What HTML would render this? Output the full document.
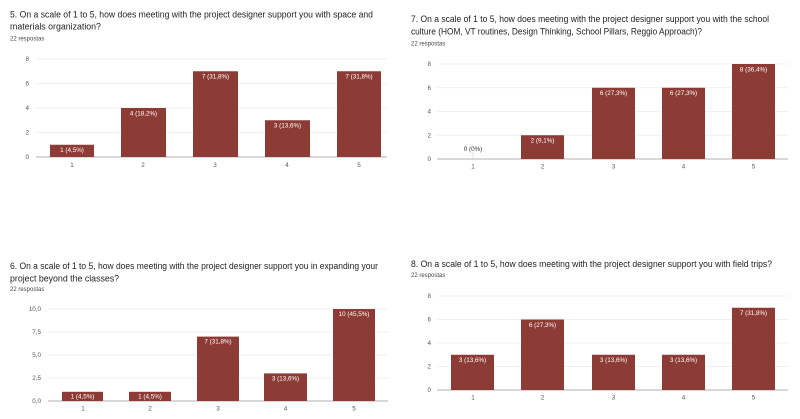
<!DOCTYPE html>
<html><head><meta charset="utf-8"><style>
html,body{margin:0;padding:0;background:#fff;}
svg{display:block;font-family:"Liberation Sans",Arial,sans-serif;}
.t{font-size:8.8px;fill:#222;}
.r{font-size:6px;fill:#444;}
.ax{font-size:6.3px;fill:#555;}
.g{stroke:#ececec;stroke-width:0.7;}
.b{fill:#8d3b35;}
.v{font-size:6.3px;fill:#fff;text-anchor:middle;}
</style></head><body>
<svg width="800" height="419" viewBox="0 0 800 419">
<!-- Chart 5 -->
<text class="t" x="10" y="17.5" textLength="363" lengthAdjust="spacingAndGlyphs">5. On a scale of 1 to 5, how does meeting with the project designer support you with space and</text>
<text class="t" x="10" y="29.5">materials organization?</text>
<text class="r" x="10" y="40.5">22 respostas</text>
<g class="g"><line x1="36" x2="387" y1="59" y2="59"/><line x1="36" x2="387" y1="83.5" y2="83.5"/><line x1="36" x2="387" y1="108" y2="108"/><line x1="36" x2="387" y1="132.5" y2="132.5"/></g>
<line x1="36" x2="387" y1="157" y2="157" stroke="#999" stroke-width="0.8"/>
<g class="ax" text-anchor="end"><text x="29" y="61">8</text><text x="29" y="85.5">6</text><text x="29" y="110">4</text><text x="29" y="134.5">2</text><text x="29" y="159">0</text></g>
<g class="ax" text-anchor="middle"><text x="72" y="167">1</text><text x="143" y="167">2</text><text x="215" y="167">3</text><text x="287" y="167">4</text><text x="359" y="167">5</text></g>
<rect class="b" x="50" y="144.75" width="44" height="12.25"/><rect class="b" x="121" y="108" width="45" height="49"/><rect class="b" x="193" y="71.25" width="45" height="85.75"/><rect class="b" x="265" y="120.25" width="45" height="36.75"/><rect class="b" x="337" y="71.25" width="44" height="85.75"/>
<text class="v" x="72" y="152">1 (4,5%)</text><text class="v" x="143.5" y="115.5">4 (18,2%)</text><text class="v" x="215.5" y="78.5">7 (31,8%)</text><text class="v" x="287.5" y="127.5">3 (13,6%)</text><text class="v" x="359" y="78.5">7 (31,8%)</text>

<!-- Chart 7 -->
<text class="t" x="411" y="22" textLength="358" lengthAdjust="spacingAndGlyphs">7. On a scale of 1 to 5, how does meeting with the project designer support you with the school</text>
<text class="t" x="411" y="34.5" textLength="291" lengthAdjust="spacingAndGlyphs">culture (HOM, VT routines, Design Thinking, School Pillars, Reggio Approach)?</text>
<text class="r" x="411" y="45.5">22 respostas</text>
<g class="g"><line x1="437" x2="788" y1="64" y2="64"/><line x1="437" x2="788" y1="87.75" y2="87.75"/><line x1="437" x2="788" y1="111.5" y2="111.5"/><line x1="437" x2="788" y1="135.25" y2="135.25"/></g>
<line x1="437" x2="788" y1="159" y2="159" stroke="#999" stroke-width="0.8"/>
<g class="ax" text-anchor="end"><text x="431" y="66">8</text><text x="431" y="89.75">6</text><text x="431" y="113.5">4</text><text x="431" y="137.25">2</text><text x="431" y="161">0</text></g>
<g class="ax" text-anchor="middle"><text x="473" y="168.5">1</text><text x="542.5" y="168.5">2</text><text x="613.5" y="168.5">3</text><text x="683.5" y="168.5">4</text><text x="753.5" y="168.5">5</text></g>
<line x1="473" x2="473" y1="152" y2="159" stroke="#ccc" stroke-width="0.6"/>
<text x="473" y="151" font-size="6.3" fill="#333" text-anchor="middle">0 (0%)</text>
<rect class="b" x="521" y="135.25" width="43" height="23.75"/><rect class="b" x="592" y="87.75" width="43" height="71.25"/><rect class="b" x="662" y="87.75" width="43" height="71.25"/><rect class="b" x="732" y="64" width="43" height="95"/>
<text class="v" x="542.5" y="142.5">2 (9,1%)</text><text class="v" x="613.5" y="95">6 (27,3%)</text><text class="v" x="683.5" y="95">6 (27,3%)</text><text class="v" x="753.5" y="71.5">8 (36,4%)</text>

<!-- Chart 6 -->
<text class="t" x="10" y="269" textLength="368" lengthAdjust="spacingAndGlyphs">6. On a scale of 1 to 5, how does meeting with the project designer support you in expanding your</text>
<text class="t" x="10" y="281.5">project beyond the classes?</text>
<text class="r" x="10" y="291">22 respostas</text>
<g class="g"><line x1="48" x2="388" y1="309" y2="309"/><line x1="48" x2="388" y1="332" y2="332"/><line x1="48" x2="388" y1="355" y2="355"/><line x1="48" x2="388" y1="378" y2="378"/></g>
<line x1="48" x2="388" y1="401" y2="401" stroke="#999" stroke-width="0.8"/>
<g class="ax" text-anchor="end"><text x="41" y="311">10,0</text><text x="41" y="334">7,5</text><text x="41" y="357">5,0</text><text x="41" y="380">2,5</text><text x="41" y="403">0,0</text></g>
<g class="ax" text-anchor="middle"><text x="83" y="410.5">1</text><text x="150" y="410.5">2</text><text x="218" y="410.5">3</text><text x="285.5" y="410.5">4</text><text x="354" y="410.5">5</text></g>
<rect class="b" x="62" y="391.8" width="41" height="9.2"/><rect class="b" x="129" y="391.8" width="42" height="9.2"/><rect class="b" x="197" y="336.6" width="42" height="64.4"/><rect class="b" x="264" y="373.4" width="43" height="27.6"/><rect class="b" x="333" y="309" width="42" height="92"/>
<text class="v" x="82.5" y="398.5">1 (4,5%)</text><text class="v" x="150" y="398.5">1 (4,5%)</text><text class="v" x="218" y="343.5">7 (31,8%)</text><text class="v" x="285.5" y="380.5">3 (13,6%)</text><text class="v" x="354" y="316">10 (45,5%)</text>

<!-- Chart 8 -->
<text class="t" x="411" y="267" textLength="361" lengthAdjust="spacingAndGlyphs">8. On a scale of 1 to 5, how does meeting with the project designer support you with field trips?</text>
<text class="r" x="411" y="277">22 respostas</text>
<g class="g"><line x1="437" x2="788" y1="296" y2="296"/><line x1="437" x2="788" y1="319.5" y2="319.5"/><line x1="437" x2="788" y1="343" y2="343"/><line x1="437" x2="788" y1="366.5" y2="366.5"/></g>
<line x1="437" x2="788" y1="390" y2="390" stroke="#999" stroke-width="0.8"/>
<g class="ax" text-anchor="end"><text x="431" y="298">8</text><text x="431" y="321.5">6</text><text x="431" y="345">4</text><text x="431" y="368.5">2</text><text x="431" y="392">0</text></g>
<g class="ax" text-anchor="middle"><text x="473" y="399.5">1</text><text x="542.5" y="399.5">2</text><text x="613.5" y="399.5">3</text><text x="683.5" y="399.5">4</text><text x="753.5" y="399.5">5</text></g>
<rect class="b" x="451" y="354.75" width="43" height="35.25"/><rect class="b" x="521" y="319.5" width="43" height="70.5"/><rect class="b" x="592" y="354.75" width="43" height="35.25"/><rect class="b" x="662" y="354.75" width="43" height="35.25"/><rect class="b" x="732" y="307.75" width="43" height="82.25"/>
<text class="v" x="472.5" y="362">3 (13,6%)</text><text class="v" x="542.5" y="327">6 (27,3%)</text><text class="v" x="613.5" y="362">3 (13,6%)</text><text class="v" x="683.5" y="362">3 (13,6%)</text><text class="v" x="753.5" y="315">7 (31,8%)</text>
</svg>
</body></html>
